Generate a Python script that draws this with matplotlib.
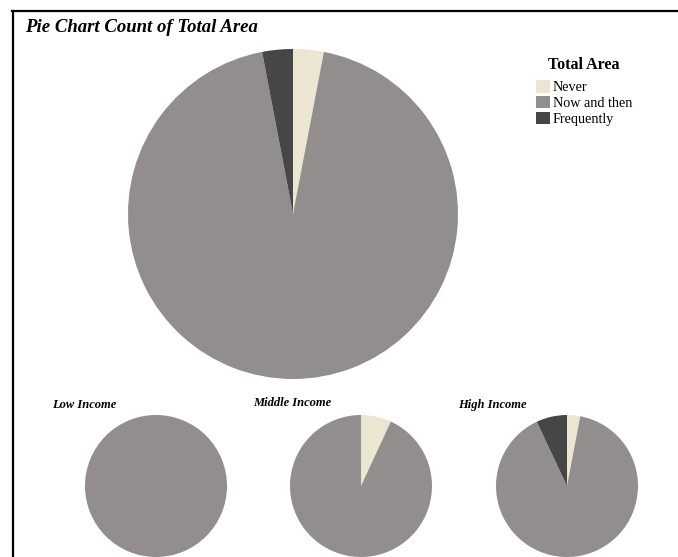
import matplotlib
matplotlib.use("Agg")
import matplotlib.pyplot as plt
from matplotlib.lines import Line2D
from matplotlib.patches import Patch

categories = ["Never", "Now and then", "Frequently"]
colors = ["#ECE5D2", "#918E8D", "#464648"]
total_values = [3.0, 94.0, 3.0]
group_names = ["Low Income", "Middle Income", "High Income"]
group_values = [
    [0.0, 100.0, 0.0],
    [6.9, 93.1, 0.0],
    [3.0, 90.0, 7.0],
]

W, H = 678, 557
fig = plt.figure(figsize=(W / 100, H / 100), dpi=100)
fig.patch.set_facecolor("white")
serif = ["Liberation Serif", "DejaVu Serif"]


def draw_pie(cx, cy, r, vals):
    ax = fig.add_axes([(cx - r) / W, (H - cy - r) / H, 2 * r / W, 2 * r / H])
    ax.pie(vals, colors=colors, startangle=90, counterclock=False, radius=1,
           wedgeprops=dict(linewidth=0))
    ax.set_xlim(-1, 1)
    ax.set_ylim(-1, 1)
    ax.set_aspect("equal")
    ax.axis("off")
    return ax


draw_pie(293, 214, 165, total_values)

centers = [156, 361, 567]
for cx, vals in zip(centers, group_values):
    draw_pie(cx, 486, 71, vals)

fig.text(25 / W, 1 - 28 / H, "Pie Chart Count of Total Area", family=serif,
         fontsize=13.5, fontweight="bold", fontstyle="italic", va="center", ha="left")

label_pos = [(52, 405), (253, 403), (458, 405)]
for (x, y), name in zip(label_pos, group_names):
    fig.text(x / W, 1 - y / H, name, family=serif, fontsize=9,
             fontweight="bold", fontstyle="italic", va="center", ha="left")

handles = [Patch(facecolor=c, edgecolor="none") for c in colors]
leg = fig.legend(handles, categories, loc="upper left",
                 bbox_to_anchor=(526 / W, 1 - 47 / H), frameon=False,
                 prop=dict(family=serif, size=10.2), title="Total Area",
                 title_fontproperties=dict(family=serif, size=11.5, weight="bold"),
                 handlelength=1.0, handleheight=1.0, handletextpad=0.2,
                 labelspacing=0.12, borderpad=0.2)
leg._legend_box.sep = 5

fig.add_artist(Line2D([12.5 / W, 12.5 / W], [0, 1 - 11 / H], color="black", linewidth=1.6))
fig.add_artist(Line2D([12 / W, 1], [1 - 11 / H, 1 - 11 / H], color="black", linewidth=1.6))

fig.savefig("out.png", dpi=100)
